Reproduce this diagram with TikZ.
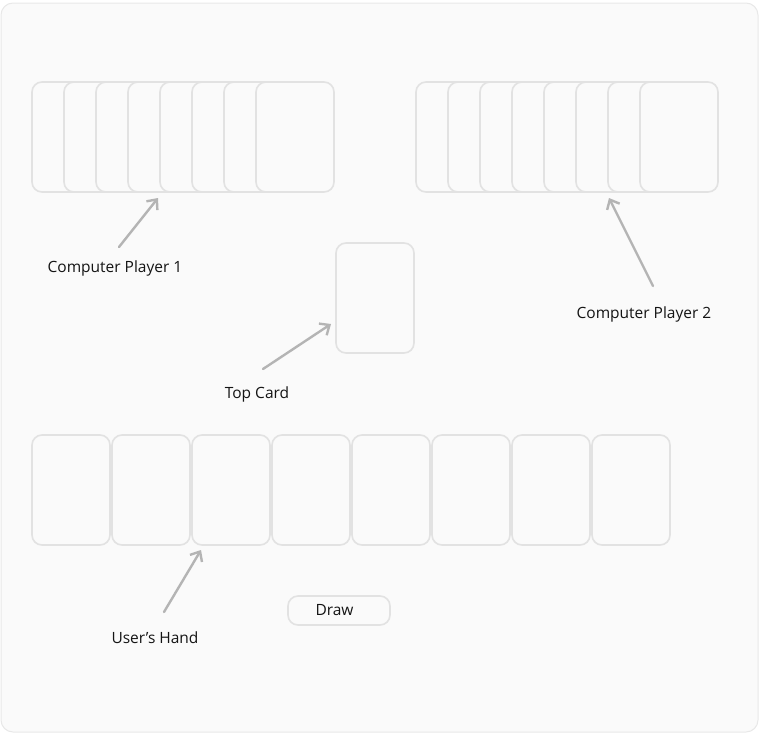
\documentclass[tikz,border=0pt]{standalone}
\usepackage{fontspec}
\setmainfont{Open Sans}
\usetikzlibrary{arrows.meta}
\definecolor{tablebg}{HTML}{FAFAFA}
\definecolor{tableline}{HTML}{E8E8E8}
\definecolor{cardline}{HTML}{E2E2E2}
\definecolor{pointergray}{HTML}{B4B4B4}
\definecolor{labeltext}{HTML}{141414}
\begin{document}
\begin{tikzpicture}[x=1pt, y=-1pt,
        card/.style={rectangle, draw=cardline, fill=tablebg, line width=1.6pt, rounded corners=10pt, minimum width=78pt, minimum height=110pt, inner sep=0pt},
        button/.style={rectangle, draw=cardline, fill=tablebg, line width=1.6pt, rounded corners=10pt, minimum width=102pt, minimum height=29pt, font=\fontsize{15.5}{17}\selectfont, text=labeltext},
        caption/.style={font=\fontsize{15.5}{17}\selectfont, text=labeltext, inner sep=0pt},
        pointer/.style={-{Straight Barb[length=8pt, width=14pt, line width=2.4pt]}, draw=pointergray, line width=2.4pt, line cap=round}
    ]
        \useasboundingbox (0,0) rectangle (760,734);
        % Table
        \draw[draw=tableline, fill=tablebg, line width=1pt, rounded corners=12pt] (1,3) rectangle (758,732);

        % Computer player 1 (overlapping cards)
        \foreach \i in {1,...,8}
            \node[card] (pa\i) at ({71+32*(\i-1)},137) {};

        % Computer player 2 (overlapping cards)
        \foreach \i in {1,...,8}
            \node[card] (pb\i) at ({455+32*(\i-1)},137) {};

        % Top card
        \node[card] (top) at (375,298) {};

        % User's hand
        \foreach \i in {1,...,8}
            \node[card] (hand\i) at ({71+80*(\i-1)},490) {};

        % Draw button
        \node[button] (draw) at (339,610.5) {Draw\kern9pt};

        % Labels
        \node[caption] (lbl1) at (115,268) {Computer Player 1};
        \node[caption] (lbl2) at (644,314) {Computer Player 2};
        \node[caption] (lbltop) at (257,394) {Top Card};
        \node[caption] (lblhand) at (155,638) {User’s Hand};

        % Pointer ends
        \coordinate (p1tail) at (119,247);
        \coordinate (p1tip) at (158,198);
        \coordinate (p2tail) at (653,286);
        \coordinate (p2tip) at (609,198);
        \coordinate (pttail) at (263,369);
        \coordinate (pttip) at (331,324);
        \coordinate (phtail) at (164,612);
        \coordinate (phtip) at (201,550);

        % Pointers
        \draw[pointer] (p1tail) -- (p1tip);
        \draw[pointer] (p2tail) -- (p2tip);
        \draw[pointer] (pttail) -- (pttip);
        \draw[pointer] (phtail) -- (phtip);
    \end{tikzpicture}
\end{document}
